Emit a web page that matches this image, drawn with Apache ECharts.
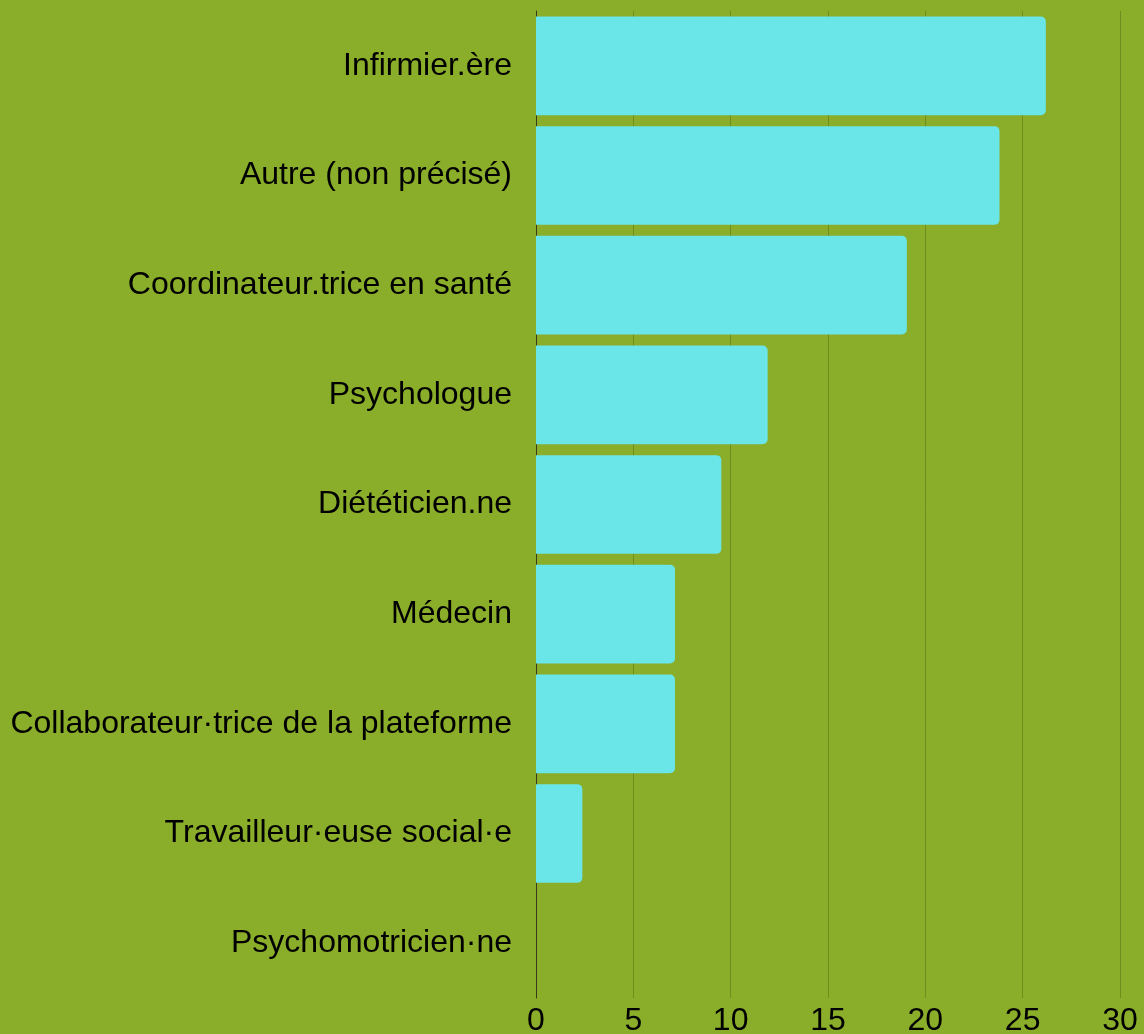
<!DOCTYPE html>
<html>
<head>
<meta charset="utf-8">
<script src="https://cdn.jsdelivr.net/npm/echarts@6/dist/echarts.min.js"></script>
<style>
  html, body { margin: 0; padding: 0; background: #8aad2a; }
  #chart { width: 1144px; height: 1034px; }
</style>
</head>
<body>
<div id="chart"></div>
<script>
const categories = [
  'Infirmier.ère',
  'Autre (non précisé)',
  'Coordinateur.trice en santé',
  'Psychologue',
  'Diététicien.ne',
  'Médecin',
  'Collaborateur·trice de la plateforme',
  'Travailleur·euse social·e',
  'Psychomotricien·ne'
]
const values = [26.19, 23.81, 19.05, 11.90, 9.52, 7.14, 7.14, 2.38, 0]
const xTicks = [0, 5, 10, 15, 20, 25, 30]

const chart = echarts.init(document.getElementById('chart'))

const option = {
  backgroundColor: '#8aad2a',
  animation: false,
  grid: {
    left: 536,
    right: 24,
    top: 11,
    bottom: 36,
    outerBoundsMode: 'none'
  },
  xAxis: {
    type: 'value',
    min: xTicks[0],
    max: xTicks[xTicks.length - 1],
    interval: 5,
    axisLine: { show: false },
    axisTick: { show: false },
    axisLabel: {
      color: '#000',
      fontSize: 32,
      fontFamily: 'Liberation Sans',
      margin: 7
    },
    splitLine: {
      show: true,
      lineStyle: { color: '#6f8d1e', width: 1 }
    }
  },
  yAxis: {
    type: 'category',
    inverse: true,
    data: categories,
    axisLine: {
      show: true,
      lineStyle: { color: '#3a3a1a', width: 1 }
    },
    axisTick: { show: false },
    axisLabel: {
      color: '#000',
      fontSize: 32,
      fontFamily: 'Liberation Sans',
      margin: 24
    }
  },
  series: [
    {
      type: 'bar',
      data: values,
      barCategoryGap: '10%',
      itemStyle: {
        color: '#6ae6e8',
        borderRadius: [0, 5, 5, 0]
      }
    }
  ]
}

chart.setOption(option)
</script>
</body>
</html>
